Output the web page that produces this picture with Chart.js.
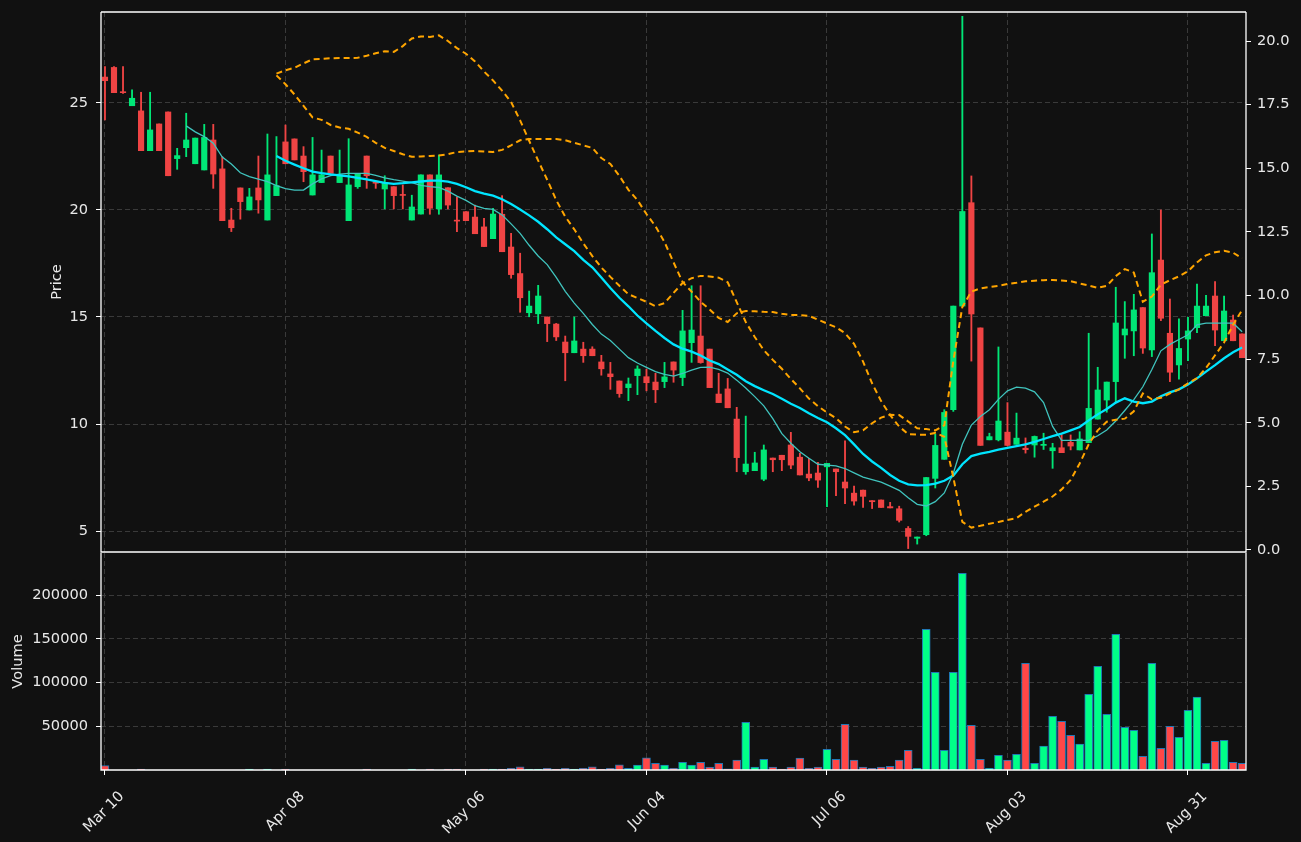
<!DOCTYPE html>
<html>
<head>
<meta charset="utf-8">
<title>Price and volume</title>
<script src="https://cdn.jsdelivr.net/npm/chart.js@4.4.1/dist/chart.umd.min.js"></script>
<style>
    html, body { margin: 0; padding: 0; background: #111111; }
    .wrap { position: relative; width: 1301px; height: 842px; overflow: hidden; }
    .wrap canvas { position: absolute; left: 0; }
    #priceChart { top: 0; }
    #volumeChart { top: 548px; }
</style>
</head>
<body>
<div class="wrap">
    <canvas id="priceChart" width="1301" height="570"></canvas>
    <canvas id="volumeChart" width="1301" height="294"></canvas>
</div>
<script>
const tickIndex = [0, 20, 40, 60, 80, 100, 120];
const tickLabels = ['Mar 10', 'Apr 08', 'May 06', 'Jun 04', 'Jul 06', 'Aug 03', 'Aug 31'];
const priceTicks = [5, 10, 15, 20, 25];
const bandTicks = [0, 2.5, 5, 7.5, 10, 12.5, 15, 17.5, 20];
const volumeTicks = [50000, 100000, 150000, 200000];

const opens = [
    26.21, 26.66, 25.52, 24.87, 24.63, 22.77, 24.02, 24.58, 22.40, 22.91,
    22.16, 21.87, 23.27, 21.92, 19.53, 21.03, 20.00, 21.03, 19.53, 20.67,
    23.18, 23.32, 22.52, 20.70, 21.28, 22.52, 21.28, 19.50, 21.09, 22.52,
    21.32, 20.98, 21.09, 20.72, 19.53, 19.81, 21.64, 20.05, 21.04, 19.52,
    19.92, 19.67, 19.21, 18.66, 19.80, 18.27, 17.03, 15.20, 15.15, 15.00,
    14.67, 13.83, 13.33, 13.50, 13.50, 12.90, 12.34, 12.01, 11.70, 12.26,
    12.21, 11.96, 11.98, 12.90, 12.17, 13.80, 14.11, 13.50, 11.40, 11.64,
    10.23, 7.77, 7.82, 7.42, 8.41, 8.54, 9.02, 8.45, 7.66, 7.71,
    8.00, 7.90, 7.29, 6.77, 6.91, 6.42, 6.45, 6.14, 6.04, 5.12,
    4.66, 4.83, 7.46, 8.35, 10.67, 15.51, 20.34, 14.49, 9.26, 9.26,
    9.62, 9.05, 8.87, 9.02, 9.00, 8.75, 8.89, 9.14, 8.79, 9.13,
    10.23, 11.12, 11.98, 14.16, 14.35, 15.44, 13.46, 17.66, 14.24, 12.76,
    13.97, 14.50, 15.06, 15.98, 13.89, 14.86, 14.21
];
const highs = [
    26.70, 26.70, 26.70, 25.61, 25.50, 25.50, 24.02, 24.58, 22.88, 24.52,
    23.36, 24.00, 24.00, 22.49, 20.08, 21.03, 21.01, 22.52, 23.55, 23.43,
    23.97, 23.32, 22.96, 23.39, 22.80, 22.52, 22.80, 23.33, 21.71, 22.52,
    21.32, 21.60, 21.09, 21.17, 20.69, 21.64, 21.64, 22.57, 21.04, 20.62,
    19.92, 20.23, 19.61, 20.08, 20.67, 18.91, 17.98, 16.21, 16.48, 15.00,
    14.70, 14.11, 15.00, 13.82, 13.61, 13.21, 12.88, 12.01, 12.15, 12.72,
    12.56, 12.37, 12.88, 12.90, 15.31, 16.46, 16.46, 13.50, 12.37, 12.13,
    10.78, 10.37, 8.68, 9.02, 8.41, 8.54, 9.61, 8.63, 8.40, 8.21,
    8.16, 7.90, 9.21, 7.10, 6.91, 6.42, 6.45, 6.34, 6.16, 5.21,
    4.72, 7.50, 9.54, 10.67, 15.51, 29.05, 21.59, 14.49, 9.57, 13.60,
    11.00, 10.51, 9.35, 9.44, 9.57, 9.10, 9.49, 9.49, 9.64, 14.24,
    12.65, 11.96, 16.39, 15.72, 16.06, 15.44, 18.88, 20.00, 15.84, 14.91,
    14.99, 16.54, 16.01, 16.65, 15.98, 15.09, 14.21
];
const lows = [
    24.21, 25.48, 25.45, 24.87, 22.77, 22.77, 22.77, 21.60, 21.90, 22.49,
    22.16, 21.87, 21.01, 19.50, 18.99, 19.57, 20.00, 19.85, 19.53, 20.67,
    22.16, 22.34, 21.32, 20.70, 21.28, 21.71, 21.28, 19.50, 21.01, 21.01,
    21.01, 20.05, 20.05, 20.05, 19.53, 19.81, 19.80, 19.80, 20.05, 18.99,
    19.50, 18.89, 18.29, 18.66, 18.05, 16.81, 15.22, 15.01, 14.69, 13.85,
    13.90, 12.02, 13.33, 12.88, 13.19, 12.28, 11.62, 11.25, 11.09, 11.37,
    11.55, 11.00, 11.70, 11.95, 11.79, 12.88, 12.84, 11.70, 11.00, 10.76,
    7.77, 7.65, 7.82, 7.35, 7.77, 7.82, 7.91, 7.62, 7.35, 7.04,
    6.14, 6.65, 6.28, 6.21, 6.10, 6.05, 6.10, 6.08, 5.42, 4.18,
    4.39, 4.78, 7.01, 8.35, 10.59, 15.51, 12.94, 9.00, 9.26, 9.21,
    8.97, 9.05, 8.64, 8.45, 8.81, 7.93, 8.66, 8.79, 8.79, 9.13,
    10.23, 10.55, 11.04, 13.07, 13.19, 13.30, 13.15, 14.83, 11.98, 12.10,
    12.96, 14.27, 15.06, 13.66, 13.89, 13.89, 13.10
];
const closes = [
    26.04, 25.48, 25.48, 25.22, 22.77, 23.74, 22.77, 21.60, 22.54, 23.27,
    23.36, 23.39, 21.68, 19.50, 19.17, 20.39, 20.61, 20.47, 21.64, 21.14,
    22.16, 22.34, 21.79, 21.64, 21.64, 21.71, 21.64, 21.17, 21.71, 21.60,
    21.25, 21.28, 20.67, 20.68, 20.14, 21.64, 20.08, 21.64, 20.23, 19.48,
    19.50, 18.89, 18.29, 19.81, 18.05, 16.98, 15.90, 15.51, 15.98, 14.69,
    14.07, 13.33, 13.88, 13.19, 13.19, 12.58, 12.21, 11.42, 11.87, 12.57,
    11.93, 11.60, 12.20, 12.52, 14.35, 14.39, 12.87, 11.70, 11.00, 10.76,
    8.43, 8.13, 8.18, 8.79, 8.33, 8.33, 8.08, 7.62, 7.48, 7.38,
    8.16, 7.77, 7.01, 6.40, 6.62, 6.37, 6.10, 6.08, 5.50, 4.75,
    4.72, 7.50, 9.00, 10.54, 15.51, 19.93, 15.14, 9.00, 9.41, 10.14,
    9.00, 9.34, 8.80, 9.42, 9.05, 8.89, 8.66, 8.97, 9.30, 10.73,
    11.59, 11.96, 14.72, 14.44, 15.33, 13.55, 17.07, 14.94, 12.42, 13.53,
    14.35, 15.51, 15.51, 14.39, 15.28, 13.89, 13.10
];
const volumes = [
    5000, 0, 0, 0, 1000, 0, 0, 0, 0, 0,
    0, 0, 0, 0, 0, 0, 1000, 0, 1000, 0,
    1000, 0, 0, 0, 0, 0, 0, 0, 0, 1000,
    0, 0, 0, 0, 1000, 0, 1000, 0, 1000, 1000,
    0, 0, 1000, 1000, 1000, 2000, 3500, 1000, 1000, 2000,
    1000, 2000, 1000, 2000, 3500, 1000, 2000, 5800, 1800, 5500,
    13800, 7700, 5500, 2000, 8900, 5500, 8900, 3200, 7700, 1200,
    11200, 54600, 3200, 12300, 3200, 1000, 3200, 13500, 2000, 3200,
    23700, 12300, 52300, 11200, 3200, 2000, 3200, 4300, 11200, 22600,
    2000, 160800, 111700, 22600, 111700, 224800, 51100, 12300, 2000, 16900,
    11200, 18000, 122000, 7700, 27200, 61400, 55700, 39700, 29500, 86600,
    118600, 63700, 155100, 48800, 45400, 15700, 122000, 24900, 50000, 37400,
    68300, 83200, 7700, 32900, 34000, 8900, 7700
];

// short average, first value at bar 9
const ma10Start = 9;
const ma10 = [
    23.93, 23.65, 23.43, 23.12, 22.47, 22.15, 21.74, 21.56, 21.44, 21.32,
    21.14, 21.00, 20.93, 20.93, 21.22, 21.45, 21.60, 21.68, 21.71, 21.71,
    21.71, 21.62, 21.50, 21.42, 21.35, 21.28, 21.15, 21.09, 21.05, 20.88,
    20.65, 20.45, 20.20, 20.07, 20.03, 19.77, 19.35, 18.91, 18.35, 17.85,
    17.45, 16.85, 16.20, 15.65, 15.17, 14.65, 14.20, 13.90, 13.50, 13.10,
    12.85, 12.65, 12.45, 12.32, 12.24, 12.36, 12.52, 12.65, 12.66, 12.55,
    12.38, 12.05, 11.68, 11.28, 10.85, 10.25, 9.55, 9.10, 8.70, 8.40,
    8.12, 8.08, 8.04, 7.92, 7.72, 7.52, 7.40, 7.28, 7.10, 6.90,
    6.55, 6.25, 6.17, 6.37, 6.78, 7.70, 9.05, 9.95, 10.35, 10.67,
    11.15, 11.55, 11.72, 11.68, 11.50, 11.00, 9.89, 9.24, 9.24, 9.24,
    9.24, 9.45, 9.72, 10.14, 10.63, 11.14, 11.74, 12.55, 13.42, 13.72,
    13.95, 14.17, 14.63, 14.71, 14.71, 14.71, 14.71, 14.31
];

// long average, first value at bar 19
const ma20Start = 19;
const ma20 = [
    22.52, 22.30, 22.12, 21.95, 21.79, 21.72, 21.66, 21.62, 21.57, 21.50,
    21.43, 21.35, 21.27, 21.22, 21.25, 21.29, 21.33, 21.37, 21.37, 21.32,
    21.22, 21.06, 20.88, 20.76, 20.67, 20.50, 20.28, 20.02, 19.75, 19.45,
    19.10, 18.72, 18.40, 18.08, 17.67, 17.32, 16.85, 16.35, 15.90, 15.50,
    15.07, 14.70, 14.35, 14.02, 13.72, 13.52, 13.38, 13.20, 12.97, 12.80,
    12.55, 12.30, 12.00, 11.77, 11.58, 11.40, 11.18, 10.95, 10.75, 10.50,
    10.28, 10.08, 9.80, 9.48, 9.05, 8.60, 8.25, 7.95, 7.62, 7.35,
    7.18, 7.13, 7.14, 7.22, 7.35, 7.59, 8.12, 8.50, 8.62, 8.70,
    8.80, 8.88, 8.97, 9.05, 9.17, 9.30, 9.43, 9.55, 9.70, 9.86,
    10.17, 10.45, 10.70, 11.00, 11.20, 11.05, 10.97, 11.05, 11.30, 11.48,
    11.62, 11.85, 12.13, 12.45, 12.75, 13.07, 13.35, 13.57
];

// orange dashed pair on the right axis, first value at bar 19
const bandStart = 19;
const bandA = [
    18.72, 18.85, 18.95, 19.12, 19.28, 19.30, 19.32, 19.33, 19.33, 19.34,
    19.42, 19.52, 19.60, 19.57, 19.80, 20.10, 20.18, 20.16, 20.22, 20.00,
    19.72, 19.50, 19.20, 18.80, 18.45, 18.05, 17.60, 16.88, 16.08, 15.30,
    14.55, 13.75, 13.10, 12.60, 12.05, 11.55, 11.10, 10.73, 10.38, 10.05,
    9.90, 9.75, 9.58, 9.70, 10.10, 10.49, 10.68, 10.77, 10.75, 10.70,
    10.52, 9.74, 8.96, 8.37, 7.85, 7.47, 7.12, 6.72, 6.35, 5.95,
    5.65, 5.40, 5.18, 4.85, 4.63, 4.70, 4.98, 5.20, 5.31, 5.30,
    5.05, 4.78, 4.75, 4.70, 4.90, 7.43, 9.55, 10.15, 10.28, 10.33,
    10.38, 10.45, 10.50, 10.56, 10.58, 10.60, 10.61, 10.59, 10.56, 10.47,
    10.39, 10.30, 10.38, 10.76, 11.04, 10.90, 9.75, 9.96, 10.42, 10.60,
    10.75, 10.95, 11.30, 11.58, 11.70, 11.76, 11.68, 11.46
];
const bandB = [
    18.65, 18.30, 17.90, 17.45, 17.00, 16.90, 16.70, 16.60, 16.55, 16.40,
    16.23, 16.00, 15.80, 15.68, 15.55, 15.45, 15.46, 15.48, 15.50, 15.55,
    15.64, 15.66, 15.68, 15.66, 15.64, 15.72, 15.90, 16.10, 16.15, 16.15,
    16.15, 16.15, 16.10, 16.00, 15.90, 15.80, 15.40, 15.17, 14.70, 14.15,
    13.75, 13.20, 12.72, 12.10, 11.30, 10.53, 10.15, 9.75, 9.45, 9.12,
    8.96, 9.30, 9.39, 9.38, 9.36, 9.35, 9.28, 9.23, 9.23, 9.20,
    9.05, 8.90, 8.75, 8.52, 8.10, 7.40, 6.55, 5.85, 5.30, 4.85,
    4.55, 4.53, 4.53, 4.60, 4.45, 2.85, 1.10, 0.88, 0.95, 1.03,
    1.10, 1.18, 1.25, 1.50, 1.70, 1.90, 2.10, 2.38, 2.75, 3.40,
    4.15, 4.70, 5.04, 5.12, 5.16, 5.45, 6.15, 5.92, 5.98, 6.15,
    6.31, 6.55, 6.75, 7.15, 7.65, 8.15, 8.85, 9.43
];

(() => {
    const X_MIN = -0.44;
    const X_MAX = 126.43;
    const UP = '#00e676';
    const DOWN = '#f04444';
    const VOL_UP = '#00ff88';
    const VOL_DOWN = '#ff4747';
    const TEXT = '#e8e8e8';
    const GRID = '#3a3a3a';
    const FONT = { family: "'DejaVu Sans', sans-serif", size: 14.6 };

    const isUp = (i) => closes[i] >= opens[i];
    const points = (start, values) => values.map((y, k) => ({ x: start + k, y }));
    const fixedTicks = (values) => (scale) => {
        scale.ticks = values.map((value) => ({ value }));
    };
    // keep the plot box where we put it: no extra room for edge labels
    const noEdgePadding = (scale) => {
        scale.paddingTop = 0;
        scale.paddingBottom = 0;
        scale.paddingLeft = 0;
        scale.paddingRight = 0;
    };

    function framePlugin(withTop) {
        return {
            id: 'frame',
            afterDraw(chart) {
                const { ctx, chartArea: a } = chart;
                ctx.save();
                ctx.strokeStyle = '#ffffff';
                ctx.lineWidth = 1.3;
                ctx.beginPath();
                if (withTop) {
                    ctx.moveTo(a.left, a.top);
                    ctx.lineTo(a.right, a.top);
                }
                ctx.moveTo(a.right, a.top);
                ctx.lineTo(a.right, a.bottom);
                ctx.lineTo(a.left, a.bottom);
                ctx.lineTo(a.left, a.top);
                ctx.stroke();
                ctx.restore();
            },
        };
    }

    function xScale(withLabels) {
        return {
            type: 'linear',
            min: X_MIN,
            max: X_MAX,
            offset: false,
            afterBuildTicks: fixedTicks(tickIndex),
            afterFit(scale) {
                scale.height = withLabels ? 72 : 0;
                noEdgePadding(scale);
            },
            grid: {
                color: GRID,
                offset: false,
                drawTicks: withLabels,
                tickLength: 5,
                tickColor: '#ffffff',
                tickBorderDash: [10, 0],
            },
            border: { display: false, dash: [5, 3] },
            ticks: {
                display: withLabels,
                autoSkip: false,
                minRotation: 45,
                maxRotation: 45,
                padding: 13,
                labelOffset: 17,
                color: TEXT,
                font: FONT,
                callback(value) {
                    const k = tickIndex.indexOf(value);
                    return k >= 0 ? tickLabels[k] : '';
                },
            },
        };
    }

    function leftScale(min, max, ticks, title, titlePad) {
        return {
            position: 'left',
            min,
            max,
            afterBuildTicks: fixedTicks(ticks),
            afterFit(scale) {
                scale.width = 101;
                noEdgePadding(scale);
            },
            grid: {
                color: GRID,
                tickLength: 5,
                tickColor: '#ffffff',
                tickBorderDash: [10, 0],
            },
            border: { display: false, dash: [5, 3] },
            ticks: {
                color: TEXT,
                font: FONT,
                padding: 8,
                callback: (value) => String(value),
            },
            title: {
                display: true,
                text: title,
                color: TEXT,
                font: FONT,
                padding: { top: titlePad, bottom: 0 },
            },
        };
    }

    function initPriceChart() {
        const canvas = document.getElementById('priceChart');
        const candleColors = opens.map((_, i) => (isUp(i) ? UP : DOWN));

        new Chart(canvas, {
            type: 'bar',
            data: {
                datasets: [
                    {
                        label: 'wicks',
                        data: highs.map((h, i) => ({ x: i, y: [lows[i], h] })),
                        backgroundColor: candleColors,
                        barThickness: 1.2,
                        grouped: false,
                        order: 6,
                    },
                    {
                        label: 'bodies',
                        data: opens.map((o, i) => ({ x: i, y: [Math.min(o, closes[i]), Math.max(o, closes[i])] })),
                        backgroundColor: candleColors,
                        barThickness: 5.5,
                        minBarLength: 1,
                        grouped: false,
                        order: 5,
                    },
                    {
                        type: 'line',
                        label: 'MA10',
                        data: points(ma10Start, ma10),
                        borderColor: '#40c4be',
                        borderWidth: 1.3,
                        pointRadius: 0,
                        order: 3,
                    },
                    {
                        type: 'line',
                        label: 'MA20',
                        data: points(ma20Start, ma20),
                        borderColor: '#00e5ff',
                        borderWidth: 2.3,
                        pointRadius: 0,
                        order: 2,
                    },
                    {
                        type: 'line',
                        label: 'Band A',
                        data: points(bandStart, bandA),
                        yAxisID: 'y2',
                        borderColor: '#ffa500',
                        borderWidth: 2,
                        borderDash: [6, 4],
                        pointRadius: 0,
                        order: 1,
                    },
                    {
                        type: 'line',
                        label: 'Band B',
                        data: points(bandStart, bandB),
                        yAxisID: 'y2',
                        borderColor: '#ffa500',
                        borderWidth: 2,
                        borderDash: [6, 4],
                        pointRadius: 0,
                        order: 1,
                    },
                ],
            },
            options: {
                responsive: false,
                animation: false,
                devicePixelRatio: 1,
                layout: { padding: { top: 12, bottom: 18, left: 0, right: 0 } },
                plugins: { legend: { display: false }, tooltip: { enabled: false } },
                scales: {
                    x: xScale(false),
                    y: leftScale(4.02, 29.25, priceTicks, 'Price', 48),
                    y2: {
                        position: 'right',
                        min: -0.08,
                        max: 21.14,
                        afterBuildTicks: fixedTicks(bandTicks),
                        afterFit(scale) {
                            scale.width = 55;
                            noEdgePadding(scale);
                        },
                        grid: {
                            drawOnChartArea: false,
                            tickLength: 5,
                            tickColor: '#ffffff',
                        },
                        border: { display: false },
                        ticks: {
                            color: TEXT,
                            font: FONT,
                            padding: 6,
                            callback: (value) => Number(value).toFixed(1),
                        },
                    },
                },
            },
            plugins: [framePlugin(true)],
        });
    }

    function initVolumeChart() {
        const canvas = document.getElementById('volumeChart');

        new Chart(canvas, {
            type: 'bar',
            data: {
                datasets: [{
                    label: 'Volume',
                    data: volumes.map((v, i) => ({ x: i, y: v })),
                    backgroundColor: volumes.map((_, i) => (isUp(i) ? VOL_UP : VOL_DOWN)),
                    borderColor: '#1f77b4',
                    borderWidth: 1,
                    barThickness: 8,
                    grouped: false,
                }],
            },
            options: {
                responsive: false,
                animation: false,
                devicePixelRatio: 1,
                layout: { padding: { top: 5, bottom: 0, left: 0, right: 55 } },
                plugins: { legend: { display: false }, tooltip: { enabled: false } },
                scales: {
                    x: xScale(true),
                    y: leftScale(0, 248000, volumeTicks, 'Volume', 9),
                },
            },
            plugins: [framePlugin(false)],
        });
    }

    document.addEventListener('DOMContentLoaded', () => {
        if (typeof Chart === 'undefined') {
            return;
        }
        initPriceChart();
        initVolumeChart();
    });
})();
</script>
</body>
</html>
